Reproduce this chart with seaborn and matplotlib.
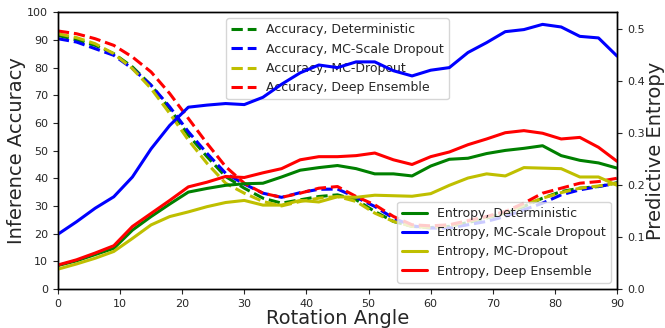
import matplotlib
matplotlib.use("Agg")
import matplotlib.pyplot as plt
import seaborn as sns

# rotation angles (degrees)
angles = list(range(0, 91, 3))

# inference accuracy (%) - dashed lines, left axis
acc_det = [91.6, 90.0, 88.0, 85.0, 80.2, 73.6, 65.2, 55.6, 47.8, 40.6, 36.4,
           32.8, 31.0, 32.2, 33.4, 34.0, 32.2, 28.0, 24.4, 22.6, 22.2, 22.6,
           24.0, 25.6, 27.4, 29.8, 32.8, 35.2, 36.4, 37.0, 38.4]
acc_mcs = [90.4, 89.2, 86.8, 84.4, 79.6, 73.6, 65.8, 56.8, 49.0, 41.8, 37.9,
           34.6, 33.1, 34.8, 36.0, 36.1, 33.1, 29.8, 25.6, 22.8, 22.0, 22.0,
           23.2, 24.4, 26.2, 28.6, 31.0, 34.0, 35.8, 37.0, 38.2]
acc_mcd = [92.2, 90.8, 88.6, 85.0, 79.6, 72.4, 63.4, 53.8, 45.4, 38.2, 34.6,
           31.6, 30.0, 31.6, 32.8, 33.4, 31.6, 27.4, 24.4, 22.6, 22.2, 22.8,
           24.4, 25.9, 27.6, 30.3, 32.8, 34.8, 36.4, 37.2, 38.2]
acc_ens = [93.2, 92.2, 90.4, 88.0, 83.8, 78.4, 70.6, 61.6, 52.6, 44.2, 38.2,
           34.6, 33.1, 34.6, 36.4, 37.0, 33.4, 30.4, 26.2, 23.2, 22.8, 23.2,
           24.7, 26.2, 28.0, 31.0, 34.6, 36.4, 38.2, 38.8, 40.0]

# predictive entropy - solid lines, right axis
ent_det = [0.045, 0.054, 0.066, 0.078, 0.113, 0.139, 0.163, 0.186, 0.193, 0.199,
           0.202, 0.203, 0.215, 0.228, 0.233, 0.237, 0.231, 0.221, 0.221, 0.217,
           0.236, 0.249, 0.251, 0.260, 0.266, 0.270, 0.275, 0.256, 0.247, 0.242, 0.232]
ent_mcs = [0.105, 0.129, 0.155, 0.177, 0.215, 0.269, 0.314, 0.349, 0.353, 0.356,
           0.354, 0.368, 0.393, 0.415, 0.430, 0.425, 0.436, 0.436, 0.419, 0.409,
           0.420, 0.425, 0.454, 0.473, 0.494, 0.498, 0.508, 0.503, 0.485, 0.482, 0.447]
ent_mcd = [0.038, 0.048, 0.059, 0.072, 0.097, 0.123, 0.139, 0.148, 0.158, 0.166,
           0.170, 0.161, 0.161, 0.170, 0.167, 0.177, 0.176, 0.180, 0.179, 0.178,
           0.183, 0.199, 0.213, 0.221, 0.217, 0.233, 0.232, 0.231, 0.215, 0.215, 0.199]
ent_ens = [0.046, 0.056, 0.069, 0.083, 0.120, 0.145, 0.170, 0.196, 0.205, 0.216,
           0.214, 0.223, 0.231, 0.248, 0.254, 0.254, 0.256, 0.261, 0.248, 0.239,
           0.254, 0.263, 0.277, 0.288, 0.300, 0.304, 0.299, 0.288, 0.291, 0.272, 0.245]

methods = ["Deterministic", "MC-Scale Dropout", "MC-Dropout", "Deep Ensemble"]
colors = ["g", "b", "y", "r"]
acc_series = [acc_det, acc_mcs, acc_mcd, acc_ens]
ent_series = [ent_det, ent_mcs, ent_mcd, ent_ens]

sns.set_style("ticks")
plt.rcParams['font.family'] = ['DejaVu Sans']

fig, ax1 = plt.subplots(figsize=(6.65, 3.28), dpi=100)
fig.subplots_adjust(left=0.087, right=0.928, bottom=0.119, top=0.963)

# accuracy curves (dashed) on the left axis
for name, col, acc in zip(methods, colors, acc_series):
    sns.lineplot(x=angles, y=acc, ax=ax1, color=col, linestyle="--",
                 linewidth=2.2, label=f"Accuracy, {name}")

# entropy curves (solid) on the right axis
ax2 = ax1.twinx()
for name, col, ent in zip(methods, colors, ent_series):
    sns.lineplot(x=angles, y=ent, ax=ax2, color=col, linewidth=2.2,
                 label=f"Entropy, {name}")

ax1.set_xlim(0, 90)
ax1.set_ylim(0, 100)
ax2.set_ylim(bottom=0)
ax1.set_xticks(range(0, 91, 10))
ax1.set_yticks(range(0, 101, 10))
ax2.set_yticks([0.0, 0.1, 0.2, 0.3, 0.4, 0.5])
ax1.tick_params(labelsize=8)
ax2.tick_params(labelsize=8)

ax1.set_xlabel("Rotation Angle", fontsize=14, labelpad=0)
ax1.set_ylabel("Inference Accuracy", fontsize=14, labelpad=1)
ax2.set_ylabel("Predictive Entropy", fontsize=14, labelpad=1)

ax1.legend(loc="upper center", fontsize=9)
ax2.legend(loc="lower right", fontsize=9)

for ax in (ax1, ax2):
    for s in ax.spines.values():
        s.set_color("black")
        s.set_linewidth(1.0)

plt.savefig("out.png", dpi=100)
